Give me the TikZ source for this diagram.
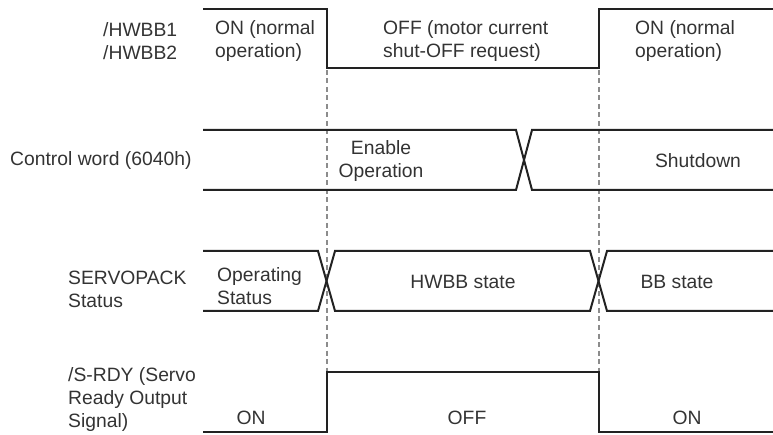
\documentclass[tikz,border=0pt]{standalone}
\usepackage{fontspec}
\setmainfont{Liberation Sans}
\usetikzlibrary{positioning}
\definecolor{sigline}{HTML}{222222}
\definecolor{txtgray}{HTML}{333333}
\definecolor{guidegray}{HTML}{8C8C8C}

\begin{document}
\begin{tikzpicture}[x=1pt,y=-1pt,
    signal/.style={line width=2pt,sigline},
    guide/.style={guidegray,line width=1.2pt,dash pattern=on 5pt off 3.5pt},
    lbl/.style={inner sep=0pt,text=txtgray,font=\fontsize{19.3}{23}\selectfont,align=left},
    clbl/.style={lbl,align=center}]
    \useasboundingbox (0,0) rectangle (773,435);

    % Dashed timing guides
    \foreach \x in {327,599} {
        \draw[guide] (\x,70) -- (\x,371);
    }

    % /HWBB1, /HWBB2
    \node[lbl,anchor=west] (hwbb) at (103,41) {/HWBB1\\/HWBB2};
    \draw[signal] (203,9) -- (327,9) -- (327,68) -- (599,68) -- (599,9) -- (773,9);
    \node[lbl,anchor=west] (hwbbon) at (215,41) {ON (normal\\operation)};
    \node[lbl,anchor=west] (hwbboff) at (383,41) {OFF (motor current\\shut-OFF request)};
    \node[lbl,anchor=west] (hwbbon2) at (635,41) {ON (normal\\operation)};

    % Control word
    \node[lbl,anchor=west] (cw) at (10,161) {Control word (6040h)};
    \draw[signal] (203,130) -- (516,130) -- (532,190) -- (773,190);
    \draw[signal] (203,190) -- (516,190) -- (532,130) -- (773,130);
    \node[clbl] (cwenable) at (381,161) {Enable\\Operation};
    \node[clbl] (cwshut) at (698,161) {Shutdown};

    % SERVOPACK status
    \node[lbl,anchor=west] (sp) at (68,289) {SERVOPACK\\Status};
    \draw[signal] (203,251) -- (318,251) -- (335,311) -- (590,311) -- (607,251) -- (773,251);
    \draw[signal] (203,311) -- (318,311) -- (335,251) -- (590,251) -- (607,311) -- (773,311);
    \node[lbl,anchor=west] (spop) at (217,286) {Operating\\Status};
    \node[clbl] (sphwbb) at (463,282) {HWBB state};
    \node[clbl] (spbb) at (677,282) {BB state};

    % /S-RDY
    \node[lbl,anchor=west] (srdy) at (68,400) {/S-RDY (Servo\\Ready Output\\Signal)};
    \draw[signal] (203,432) -- (327,432) -- (327,372) -- (599,372) -- (599,432) -- (773,432);
    \node[clbl] (srdyon) at (251,418) {ON};
    \node[clbl] (srdyoff) at (467,418) {OFF};
    \node[clbl] (srdyon2) at (687,418) {ON};
\end{tikzpicture}
\end{document}
